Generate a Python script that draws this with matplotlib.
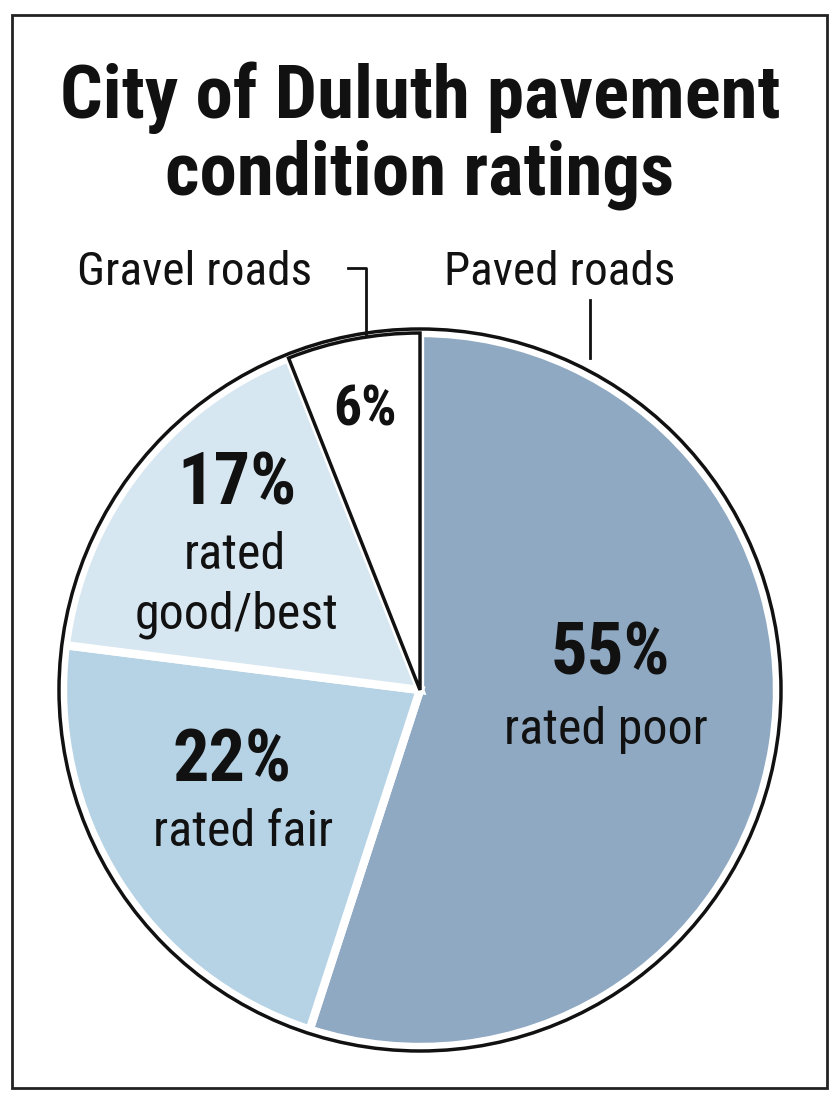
import matplotlib.pyplot as plt
from matplotlib.patches import Rectangle, Circle

labels = ['rated poor', 'rated fair', 'rated good/best', 'gravel']
shares = [55, 22, 17, 6]
colors = ['#8fa9c3', '#b6d3e5', '#d7e7f1', '#ffffff']

FONT = ['Liberation Sans Narrow', 'Roboto Condensed', 'DejaVu Sans']
H = 1101

fig = plt.figure(figsize=(8.4, 11.01), dpi=100)
ax = fig.add_axes([0, 0, 1, 1])
ax.set_xlim(0, 840)
ax.set_ylim(0, H)
ax.set_aspect('equal')
ax.axis('off')

ax.add_patch(Rectangle((12, H - 1088), 815, 1073, fill=False, ec='#222', lw=2))

cx, cy, r = 420, H - 690, 357
wedges, _ = ax.pie(shares, colors=colors, startangle=90, counterclock=False,
                   center=(cx, cy), radius=r,
                   wedgeprops=dict(edgecolor='white', linewidth=6))
wedges[-1].set_edgecolor('#111')
wedges[-1].set_linewidth(2.5)
wedges[-1].set_zorder(3)
ax.add_patch(Circle((cx, cy), r + 4, fill=False, ec='#111', lw=2.5, zorder=4))
ax.set_xlim(0, 840)
ax.set_ylim(0, H)

def t(x, y, s, size, bold=False):
    ax.text(x, H - y, s, fontsize=size, family=FONT, ha='center', va='center',
            fontweight='bold' if bold else 'normal', color='#111', zorder=5)

t(420, 98, 'City of Duluth pavement', 54, True)
t(420, 175, 'condition ratings', 54, True)
t(195, 272, 'Gravel roads', 34)
t(560, 272, 'Paved roads', 34)
ax.plot([348, 366, 366], [H - 268, H - 268, H - 348], color='#111', lw=2)
ax.plot([590, 590], [H - 300, H - 358], color='#111', lw=2)

t(365, 410, '6%', 40, True)
t(237, 485, '17%', 52, True)
t(235, 555, 'rated', 36)
t(237, 615, 'good/best', 36)
t(232, 762, '22%', 52, True)
t(243, 832, 'rated fair', 36)
t(610, 655, '55%', 52, True)
t(606, 730, 'rated poor', 36)

fig.savefig('out.png', dpi=100, facecolor='white')
